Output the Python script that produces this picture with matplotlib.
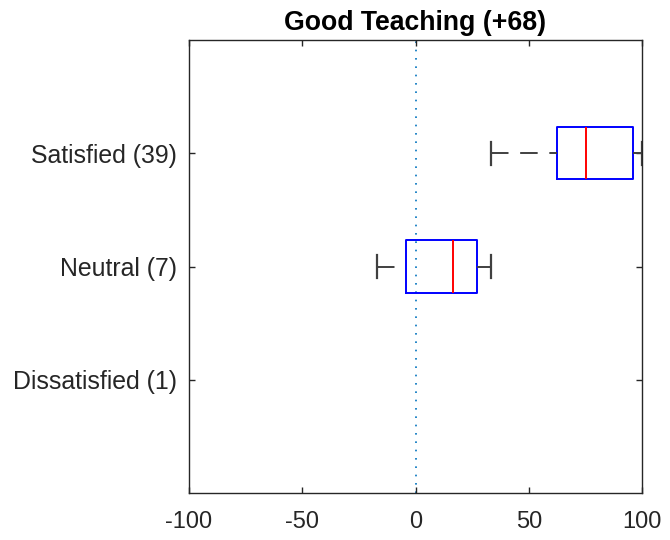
import matplotlib
matplotlib.use('Agg')
import matplotlib.pyplot as plt

# --- datos ---
etiquetas = ['Dissatisfied (1)', 'Neutral (7)', 'Satisfied (39)']
posiciones = [1, 2, 3]
q1 = [None, -4.3, 62.3]
mediana = [None, 16.7, 75.1]
q3 = [None, 27.0, 96.2]
bigote_bajo = [None, -16.9, 33.3]
bigote_alto = [None, 33.3, 100.0]
titulo = 'Good Teaching (+68)'

plt.rcParams['font.family'] = ['Liberation Sans', 'DejaVu Sans']

fig = plt.figure(figsize=(6.7, 5.4), dpi=100)
ax = fig.add_axes([189 / 670, 1 - 493 / 540, (642 - 189) / 670, (493 - 40) / 540])

# solo las categorias con datos (Dissatisfied no dibuja caja)
stats = []
pos_validas = []
for i in range(len(etiquetas)):
    if q1[i] is None:
        continue
    stats.append({'q1': q1[i], 'med': mediana[i], 'q3': q3[i],
                  'whislo': bigote_bajo[i], 'whishi': bigote_alto[i], 'fliers': []})
    pos_validas.append(posiciones[i])

ax.axvline(0, color=(0, 0.447, 0.741), linestyle=(0, (1, 4)), linewidth=1.2, zorder=1)

res = ax.bxp(stats, positions=pos_validas, vert=False, widths=0.46, capwidths=0.2,
             showfliers=False,
             boxprops=dict(color='blue', linewidth=1.4),
             medianprops=dict(color='red', linewidth=1.4),
             whiskerprops=dict(color='#404040', linewidth=1.4, linestyle=(0, (9, 6))),
             capprops=dict(color='#404040', linewidth=1.6))

# el patron de guiones empieza en el extremo del bigote
for linea in res['whiskers']:
    xs, ys = linea.get_data()
    linea.set_data(list(xs)[::-1], list(ys)[::-1])

ax.set_xlim(-100, 100)
ax.set_ylim(0, 4)
ax.set_xticks([-100, -50, 0, 50, 100])
ax.set_xticklabels(['-100', '-50', '0', '50', '100'])
ax.set_yticks(posiciones)
ax.set_yticklabels(etiquetas)

for lado in ax.spines.values():
    lado.set_color('#262626')
    lado.set_linewidth(1.0)
ax.tick_params(direction='in', length=4.5, width=1.0, colors='#262626',
               top=True, right=True)
ax.tick_params(axis='x', pad=13, labelsize=17)
ax.tick_params(axis='y', pad=9, labelsize=17.9)

ax.set_title(titulo, fontsize=19.2, fontweight='bold', color='black', pad=7)

fig.savefig('out.png', dpi=100)
